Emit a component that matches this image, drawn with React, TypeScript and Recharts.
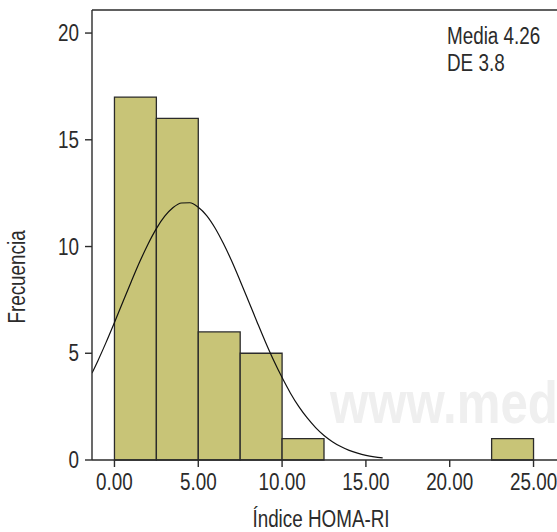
import {
  ComposedChart,
  Line,
  ReferenceArea,
  ReferenceLine,
  XAxis,
  YAxis,
} from "recharts";

const binStarts = [0, 2.5, 5, 7.5, 10, 22.5];
const binCounts = [17, 16, 6, 5, 1, 1];
const binWidth = 2.5;

const curveX = [
  -1.34, -1, -0.5, 0, 0.5, 1, 1.5, 2, 2.5, 3, 3.5, 4, 4.5, 5, 5.5, 6, 6.5, 7,
  7.5, 8, 8.5, 9, 9.5, 10, 10.5, 11, 11.5, 12, 12.5, 13, 13.5, 14, 14.5, 15,
  15.5, 16,
];
const curveY = [
  4.07, 4.63, 5.51, 6.44, 7.4, 8.35, 9.27, 10.11, 10.84, 11.42, 11.83, 12.04,
  12.05, 11.84, 11.45, 10.87, 10.14, 9.31, 8.39, 7.44, 6.48, 5.54, 4.66, 3.86,
  3.13, 2.5, 1.97, 1.52, 1.15, 0.86, 0.63, 0.45, 0.32, 0.22, 0.15, 0.1,
];

const xTicks = [0, 5, 10, 15, 20, 25];
const yTicks = [0, 5, 10, 15, 20];

const statLines = ["Media 4.26", "DE 3.8"];

const font = "'Liberation Sans', Arial, sans-serif";
const ink = "#2b2b2b";
const barFill = "#c8c477";
const squeeze = 0.82;

const curveData = curveX.map((x, i) => ({ x, y: curveY[i] }));

// condensed text: the reference uses a narrow Helvetica
function NarrowText({
  x,
  y,
  anchor = "start",
  size = 23,
  rotate = 0,
  fill = ink,
  weight = "normal",
  children,
}: {
  x: number;
  y: number;
  anchor?: "start" | "middle" | "end";
  size?: number;
  rotate?: number;
  fill?: string;
  weight?: string;
  children: React.ReactNode;
}) {
  return (
    <text
      transform={`translate(${x},${y}) rotate(${rotate}) scale(${squeeze},1)`}
      textAnchor={anchor}
      fill={fill}
      fontSize={size}
      fontWeight={weight}
      fontFamily={font}
    >
      {children}
    </text>
  );
}

function XTick(props: any) {
  const { x, y, payload } = props;
  return (
    <NarrowText x={x} y={y + 16} anchor="middle">
      {Number(payload.value).toFixed(2)}
    </NarrowText>
  );
}

function YTick(props: any) {
  const { x, y, payload } = props;
  return (
    <NarrowText x={x} y={y + 8} anchor="end">
      {payload.value}
    </NarrowText>
  );
}

export default function App() {
  return (
    <div style={{ position: "absolute", left: 0, top: 0 }}>
      <ComposedChart
        width={557}
        height={532}
        data={curveData}
        margin={{ top: 10, right: 0, bottom: 32, left: 32 }}
      >
        <XAxis
          dataKey="x"
          type="number"
          domain={[-1.34, 26.4]}
          allowDataOverflow
          ticks={xTicks}
          height={40}
          tickSize={7}
          tickMargin={7}
          axisLine={{ stroke: ink, strokeWidth: 1.4 }}
          tickLine={{ stroke: ink, strokeWidth: 1.4 }}
          tick={<XTick />}
          interval={0}
        />
        <YAxis
          type="number"
          domain={[0, 21.08]}
          allowDataOverflow
          ticks={yTicks}
          width={60}
          tickSize={7}
          tickMargin={6}
          axisLine={{ stroke: ink, strokeWidth: 1.4 }}
          tickLine={{ stroke: ink, strokeWidth: 1.4 }}
          tick={<YTick />}
          interval={0}
        />
        <NarrowText x={330} y={423} size={60} weight="bold" fill="#efefef">
          www.medigraphic.org.mx
        </NarrowText>
        <ReferenceLine y={21.08} stroke={ink} strokeWidth={1.4} />
        {binStarts.map((start, i) => (
          <ReferenceArea
            key={start}
            x1={start}
            x2={start + binWidth}
            y1={0}
            y2={binCounts[i]}
            fill={barFill}
            fillOpacity={1}
            stroke={ink}
            strokeWidth={1.3}
          />
        ))}
        <Line
          dataKey="y"
          type="monotone"
          stroke="#111"
          strokeWidth={1.2}
          dot={false}
          activeDot={false}
          isAnimationActive={false}
        />
        {statLines.map((t, i) => (
          <NarrowText key={t} x={447} y={44 + i * 27}>
            {t}
          </NarrowText>
        ))}
        <NarrowText x={25} y={277} rotate={-90} anchor="middle">
          Frecuencia
        </NarrowText>
        <NarrowText x={321} y={527} anchor="middle">
          Índice HOMA-RI
        </NarrowText>
      </ComposedChart>
    </div>
  );
}
